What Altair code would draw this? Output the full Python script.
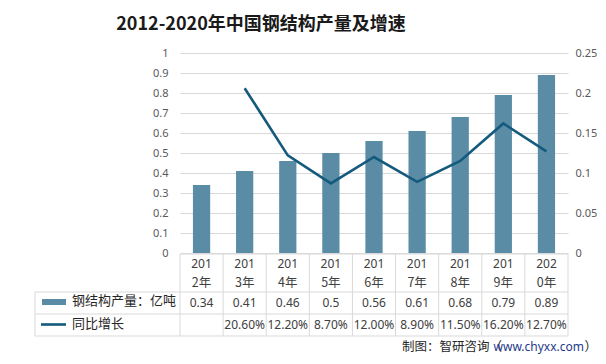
import altair as alt
import pandas as pd

# ---------------- data ----------------
years = ["2012", "2013", "2014", "2015", "2016", "2017", "2018", "2019", "2020"]
output = [0.34, 0.41, 0.46, 0.5, 0.56, 0.61, 0.68, 0.79, 0.89]          # 亿吨
growth = [None, 20.6, 12.2, 8.7, 12.0, 8.9, 11.5, 16.2, 12.7]           # %
series_names = ["钢结构产量：亿吨", "同比增长"]
left_ticks = [0, 0.1, 0.2, 0.3, 0.4, 0.5, 0.6, 0.7, 0.8, 0.9, 1]
right_ticks = [0, 0.05, 0.1, 0.15, 0.2, 0.25]
title_text = "2012-2020年中国钢结构产量及增速"
source_parts = ["制图：智研咨询（", "www.chyxx.com", "）"]

# ---------------- style ----------------
W, H = 388, 200
FONT = "Noto Sans CJK SC"
NUMF = "Noto Sans"
BAR = "#5B8CA6"
LINE = "#145A7C"
GRID = "#D9D9D9"
TXT = "#404040"
AXT = "#595959"

df = pd.DataFrame({
    "year": years,
    "output": output,
    "h1": [y[:3] for y in years],
    "h2": [y[3] + "年" for y in years],
    "out_lbl": [str(v) for v in output],
})
gdf = pd.DataFrame({
    "year": [y for y, g in zip(years, growth) if g is not None],
    "growth": [g / 100 for g in growth if g is not None],
    "gr_lbl": [f"{g:.2f}%" for g in growth if g is not None],
})
one = pd.DataFrame({"k": [0]})

xs = alt.Scale(type="band", domain=years, paddingInner=0, paddingOuter=0)
X = alt.X("year:N", scale=xs, axis=None)

bars = alt.Chart(df).mark_bar(width=alt.RelativeBandSize(0.4), color=BAR).encode(
    x=X,
    y=alt.Y("output:Q", scale=alt.Scale(domain=[0, 1], nice=False, zero=True),
            axis=alt.Axis(orient="left", values=left_ticks, format="~g", grid=True,
                          gridColor=GRID, domain=False, ticks=False, labelPadding=12,
                          labelColor=AXT, labelFont=NUMF, labelFontSize=11,
                          labelBaseline="middle", labelFlush=False, title=None)),
)

line = alt.Chart(gdf).mark_line(color=LINE, strokeWidth=2.6).encode(
    x=X,
    y=alt.Y("growth:Q", scale=alt.Scale(domain=[0, 0.25], nice=False, zero=True),
            axis=alt.Axis(orient="right", values=right_ticks, format="~g", grid=False,
                          domain=False, ticks=False, labelPadding=7,
                          labelColor=AXT, labelFont=NUMF, labelFontSize=11,
                          labelBaseline="middle", labelFlush=False, title=None)),
)

# ---------------- data table ----------------
def hrule(x0, x1, y):
    return alt.Chart(one).mark_rule(color=GRID, strokeWidth=1).encode(
        x=alt.value(x0), x2=alt.value(x1), y=alt.value(y))

def vrule(x, y0, y1):
    return alt.Chart(one).mark_rule(color=GRID, strokeWidth=1).encode(
        x=alt.value(x), y=alt.value(y0), y2=alt.value(y1))

vlines = alt.Chart(df).mark_rule(color=GRID, strokeWidth=1).encode(
    x=alt.X("year:N", scale=xs, axis=None, bandPosition=0),
    y=alt.value(201), y2=alt.value(283))

table_lines = [
    hrule(0, W, 201), hrule(-145, W, 239), hrule(-145, W, 261), hrule(-145, W, 283),
    vrule(W, 201, 283), vrule(-145, 239, 283), vlines,
]

txt_kw = dict(font=FONT, fontSize=12.5, color=TXT, baseline="middle")
num_kw = dict(font=NUMF, fontSize=12, color=TXT, baseline="middle")
header1 = alt.Chart(df).mark_text(**num_kw).encode(x=X, y=alt.value(211), text="h1:N")
header2 = alt.Chart(df).mark_text(**txt_kw).encode(x=X, y=alt.value(229.5), text="h2:N")
row1 = alt.Chart(df).mark_text(**num_kw).encode(x=X, y=alt.value(250), text="out_lbl:N")
row2 = alt.Chart(gdf).mark_text(**num_kw).encode(x=X, y=alt.value(272), text="gr_lbl:N")

leg_sw1 = alt.Chart(one).mark_rect(color=BAR).encode(
    x=alt.value(-138), x2=alt.value(-114), y=alt.value(246), y2=alt.value(252))
leg_sw2 = alt.Chart(one).mark_rule(color=LINE, strokeWidth=2.6).encode(
    x=alt.value(-139), x2=alt.value(-114), y=alt.value(271.5))
leg_t1 = alt.Chart(pd.DataFrame({"n": [series_names[0]]})).mark_text(
    align="left", font=FONT, fontSize=13, color="#262626", baseline="middle").encode(
    x=alt.value(-108), y=alt.value(248), text="n:N")
leg_t2 = alt.Chart(pd.DataFrame({"n": [series_names[1]]})).mark_text(
    align="left", font=FONT, fontSize=13, color="#262626", baseline="middle").encode(
    x=alt.value(-108), y=alt.value(271), text="n:N")

title = alt.Chart(pd.DataFrame({"t": [title_text]})).mark_text(
    font=FONT, fontSize=18, fontWeight="bold", color="#1A1A1A", baseline="middle").encode(
    x=alt.value(81), y=alt.value(-28), text="t:N")

FY = 294
src_kw = dict(font=FONT, fontSize=12.5, baseline="middle", align="right")
src3 = alt.Chart(pd.DataFrame({"t": [source_parts[2]]})).mark_text(color="#262626", **src_kw).encode(
    x=alt.value(417), y=alt.value(FY), text="t:N")
src2 = alt.Chart(pd.DataFrame({"t": [source_parts[1]]})).mark_text(
    color="#1F3A8A", font=NUMF, fontSize=12, baseline="middle", align="right").encode(
    x=alt.value(404), y=alt.value(FY), text="t:N")
src1 = alt.Chart(pd.DataFrame({"t": [source_parts[0]]})).mark_text(color="#262626", **src_kw).encode(
    x=alt.value(322), y=alt.value(FY), text="t:N")

chart = alt.layer(
    bars, line, *table_lines, header1, header2, row1, row2,
    leg_sw1, leg_sw2, leg_t1, leg_t2, title, src1, src2, src3,
).resolve_scale(y="independent").properties(
    width=W, height=H,
    autosize=alt.AutoSizeParams(type="none"),
    padding={"left": 172, "top": 45, "right": 30, "bottom": 103},
).configure(background="white").configure_view(strokeOpacity=0)

chart.save("out.html", embed_options={"renderer": "svg", "actions": False})
